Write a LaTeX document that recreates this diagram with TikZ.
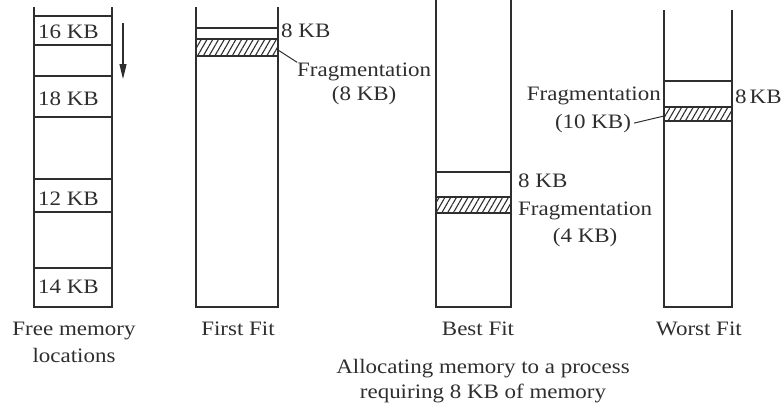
\documentclass[tikz,border=0pt]{standalone}
\usepackage{fontspec}
\setmainfont{Liberation Serif}[FakeStretch=1.12]
\usetikzlibrary{patterns.meta,arrows.meta}
\definecolor{ink}{HTML}{2E2E2E}
\tikzset{
  wall/.style={draw=ink, line width=1.6pt},
  hatchbox/.style={draw=ink, line width=1.4pt, pattern={Lines[angle=60,distance=5pt,line width=1.1pt]}, pattern color=ink},
  lbl/.style={inner sep=0pt, text=ink, font=\fontsize{20.5}{24}\selectfont},
  leader/.style={draw=ink, line width=1pt},
}
\begin{document}
\begin{tikzpicture}[x=1pt,y=-1pt]
\useasboundingbox (0,0) rectangle (783,408);
% Free memory column
\draw[wall] (34,7) -- (34,307) -- (112,307) -- (112,7);
\foreach \yy in {16,45,76,117,179,212,268}{\draw[wall] (34,\yy) -- (112,\yy);}
\node[lbl, anchor=base west] (k16) at (38,38) {16 KB};
\node[lbl, anchor=base west] (k18) at (38,105) {18 KB};
\node[lbl, anchor=base west] (k12) at (38,205) {12 KB};
\node[lbl, anchor=base west] (k14) at (38,293) {14 KB};
\coordinate (arrA) at (123,23);
\coordinate (arrB) at (123,79);
\draw[ink, line width=1.2pt, -{Triangle[length=15pt,width=7pt]}] (arrA) -- (arrB);
\node[lbl, anchor=base] (free1) at (74,335) {Free memory};
\node[lbl, anchor=base] (free2) at (74,362) {locations};
% First fit
\draw[wall] (196,7) -- (196,307) -- (278,307) -- (278,7);
\draw[wall] (196,28) -- (278,28);
\draw[hatchbox] (196,39) rectangle (278,56);
\node[lbl, anchor=base west] (ff8) at (281,37) {8 KB};
\node[lbl, anchor=base west] (fffrag) at (297,76) {Fragmentation};
\node[lbl, anchor=base] (ff8b) at (fffrag.base |- 0,100) {(8 KB)};
\coordinate (ffh) at (278,50);
\draw[leader] (ffh) -- (fffrag.north west);
\node[lbl, anchor=base] (ffname) at (238,335) {First Fit};
% Best fit
\draw[wall] (436,0) -- (436,307) -- (511,307) -- (511,0);
\draw[wall] (436,172) -- (511,172);
\draw[hatchbox] (436,197) rectangle (511,213);
\node[lbl, anchor=base west] (bf8) at (518,187) {8 KB};
\node[lbl, anchor=base west] (bffrag) at (518,215) {Fragmentation};
\node[lbl, anchor=base] (bf4) at (bffrag.base |- 0,242) {(4 KB)};
\node[lbl, anchor=base] (bfname) at (478,335) {Best Fit};
% Worst fit
\draw[wall] (664,10) -- (664,307) -- (732,307) -- (732,10);
\draw[wall] (664,81) -- (732,81);
\draw[hatchbox] (664,107) rectangle (732,121);
\node[lbl, anchor=base west] (wf8) at (735,103) {8\hspace{3pt}KB};
\node[lbl, anchor=base east] (wffrag) at (661,100) {Fragmentation};
\node[lbl, anchor=base] (wf10) at (593,128) {(10 KB)};
\coordinate (wfh) at (664,116);
\draw[leader] (wf10.east) ++(3,0) -- (wfh);
\node[lbl, anchor=base] (wfname) at (699,335) {Worst Fit};
% caption
\node[lbl, anchor=base] (cap1) at (483,373) {Allocating memory to a process};
\node[lbl, anchor=base] (cap2) at (483,398) {requiring 8 KB of memory};
\end{tikzpicture}
\end{document}
